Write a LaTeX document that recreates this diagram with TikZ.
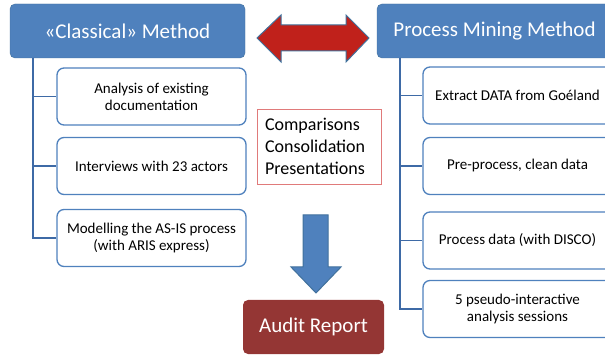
\documentclass[tikz,border=0pt]{standalone}
\usepackage{fontspec}
\setmainfont{Carlito}
\usepackage{tikz}

\definecolor{headblue}{HTML}{4F81BD}
\definecolor{edgeblue}{HTML}{41719C}
\definecolor{trunkblue}{HTML}{3E6AA6}
\definecolor{arrowred}{HTML}{C0211B}
\definecolor{auditred}{HTML}{943634}
\definecolor{notered}{HTML}{E07A7A}

\begin{document}
\begin{tikzpicture}[x=1pt,y=-1pt,
  head/.style={draw=edgeblue,fill=headblue,text=white,rounded corners=5pt,
    minimum width=235pt,minimum height=54pt,font=\fontsize{21}{24}\selectfont},
  task/.style={draw=headblue,line width=1.3pt,fill=white,rounded corners=7pt,
    minimum width=189pt,minimum height=57pt,align=center,
    font=\fontsize{15}{17}\selectfont},
  trunk/.style={draw=trunkblue,line width=1.6pt}]
  \path[use as bounding box,clip] (0,0) rectangle (605,355);

  \node[head] (lhead) at (127.5,31) {«Classical» Method};
  \node[head] (rhead) at (494.5,31) {Process Mining Method};

  \node[task] (lbox1) at (151.5,96.5) {Analysis of existing\\documentation};
  \node[task] (lbox2) at (151.5,166) {Interviews with 23 actors};
  \node[task] (lbox3) at (151.5,238) {Modelling the AS-IS process\\(with ARIS express)};

  \node[task] (rbox1) at (517.5,95.5) {Extract DATA from Goéland};
  \node[task] (rbox2) at (517.5,166) {Pre-process, clean data};
  \node[task] (rbox3) at (517.5,240.5) {Process data (with DISCO)};
  \node[task] (rbox4) at (517.5,309) {5 pseudo-interactive\\analysis sessions};

  % tree lines
  \coordinate (ltrunk) at (33,58);
  \coordinate (rtrunk) at (400,58);
  \foreach \b in {lbox1,lbox2,lbox3}
    \draw[trunk] (ltrunk) |- (\b.west);
  \foreach \b in {rbox1,rbox2,rbox3,rbox4}
    \draw[trunk] (rtrunk) |- (\b.west);

  % big arrows
  \draw[fill=arrowred,draw=edgeblue,line width=1pt,line join=miter]
    (257,38) -- (281,15) -- (281,25) -- (346,25) -- (346,15) -- (369,38)
    -- (346,62) -- (346,51) -- (281,51) -- (281,62) -- cycle;
  \draw[fill=headblue,draw=edgeblue,line width=1pt,line join=miter]
    (303,215) -- (328,215) -- (328,267) -- (341,267) -- (316,293)
    -- (291,267) -- (303,267) -- cycle;

  \node[draw=notered,fill=white,text width=108pt,inner sep=8pt,align=left,
    minimum height=75pt,font=\fontsize{18}{22}\selectfont]
    (note) at (319,146.5) {Comparisons\\Consolidation\\Presentations};

  \node[fill=auditred,text=white,rounded corners=5pt,minimum width=141pt,
    minimum height=54pt,font=\fontsize{21}{24}\selectfont]
    (audit) at (313.5,327) {Audit Report};
\end{tikzpicture}
\end{document}
